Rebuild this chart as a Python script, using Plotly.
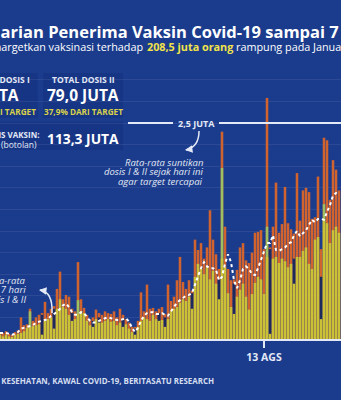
import plotly.graph_objects as go
import pandas as pd

# ---------------- data (values in juta / million doses) ----------------
dates = pd.date_range("2021-05-17", "2021-09-07", freq="D")

total = [0.08, 0.07, 0.09, 0.06, 0.05, 0.08, 0.10, 0.25, 0.16, 0.17,
         0.35, 0.21, 0.25, 0.28, 0.30, 0.43, 0.30, 0.35, 0.38, 0.58,
         0.78, 0.46, 0.51, 0.49, 0.35, 0.32, 0.89, 0.46, 0.36, 0.28,
         0.23, 0.25, 0.34, 0.30, 0.28, 0.32, 0.30, 0.29, 0.32, 0.25,
         0.35, 0.28, 0.23, 0.19, 0.14, 0.14, 0.21, 0.54, 0.32, 0.63,
         0.35, 0.36, 0.32, 0.35, 0.37, 0.29, 0.63, 0.44, 0.49, 0.68,
         0.95, 0.66, 0.58, 0.68, 0.56, 1.15, 1.03, 1.11, 0.93, 1.06,
         1.49, 1.15, 0.98, 0.81, 2.40, 1.30, 0.81, 0.68, 0.69, 0.80,
         1.06, 1.11, 0.91, 0.88, 1.00, 1.23, 1.24, 1.26, 1.04, 2.79,
         1.06, 1.30, 1.81, 1.23, 1.33, 1.76, 1.34, 1.27, 1.22, 1.92,
         1.37, 1.72, 1.75, 1.70, 1.39, 1.41, 1.88, 1.04, 2.33, 2.30,
         1.61, 2.07, 1.96, 1.72]

dosis1 = [0.05, 0.03, 0.05, 0.03, 0.02, 0.05, 0.06, 0.07, 0.09, 0.13,
          0.14, 0.15, 0.16, 0.17, 0.05, 0.21, 0.23, 0.25, 0.12, 0.35,
          0.46, 0.37, 0.35, 0.28, 0.21, 0.23, 0.29, 0.32, 0.30, 0.21,
          0.16, 0.14, 0.23, 0.19, 0.19, 0.21, 0.23, 0.20, 0.21, 0.16,
          0.19, 0.14, 0.17, 0.12, 0.08, 0.05, 0.14, 0.21, 0.25, 0.23,
          0.21, 0.28, 0.23, 0.21, 0.22, 0.14, 0.23, 0.32, 0.35, 0.37,
          0.42, 0.46, 0.44, 0.49, 0.35, 0.72, 0.87, 0.81, 0.75, 0.83,
          0.69, 0.79, 0.64, 0.46, 0.93, 0.83, 0.53, 0.37, 0.29, 0.49,
          0.57, 0.64, 0.49, 0.34, 0.52, 0.65, 0.72, 0.69, 0.52, 0.95,
          0.06, 0.93, 0.95, 0.88, 0.93, 0.90, 0.83, 0.87, 0.64, 0.95,
          0.95, 1.02, 1.06, 0.87, 0.81, 1.15, 1.18, 0.23, 1.39, 1.34,
          1.11, 1.26, 1.30, 1.23]

dosis2 = [0, 0, 0, 0, 0, 0, 0, 0, 0, 0,
          0, 0, 0, 0, 0.28, 0, 0, 0, 0.35, 0,
          0, 0, 0, 0, 0.30, 0, 0, 0, 0, 0,
          0, 0.21, 0, 0.25, 0, 0, 0, 0, 0, 0,
          0, 0.23, 0, 0, 0, 0.12, 0, 0, 0, 0,
          0, 0, 0, 0.30, 0, 0.25, 0, 0, 0, 0,
          0, 0, 0, 0, 0.53, 0, 0, 0, 0, 0,
          0, 0, 0, 0.69, 0, 0, 0, 0, 0.64, 0,
          0, 0, 0, 0, 0, 0, 0, 0, 0, 0,
          1.04, 0, 0, 0, 0, 0, 0, 0, 0.93, 0,
          0, 0, 0, 0, 0, 0, 0, 0.72, 0, 0,
          0, 0, 0, 0]

dosis3 = [0] * 114
for idx, val in [(10, 0.32), (26, 0.45), (74, 1.98), (89, 1.30), (108, 1.56)]:
    dosis3[idx] = val

rata7 = [0.07, 0.07, 0.07, 0.06, 0.05, 0.06, 0.08, 0.12, 0.13, 0.14,
         0.15, 0.16, 0.19, 0.20, 0.21, 0.22, 0.23, 0.27, 0.29, 0.31,
         0.35, 0.39, 0.41, 0.37, 0.31, 0.28, 0.28, 0.31, 0.30, 0.25,
         0.21, 0.19, 0.19, 0.21, 0.23, 0.24, 0.25, 0.24, 0.23, 0.22,
         0.22, 0.23, 0.24, 0.20, 0.13, 0.08, 0.13, 0.21, 0.27, 0.30,
         0.31, 0.31, 0.29, 0.29, 0.30, 0.28, 0.27, 0.32, 0.37, 0.42,
         0.45, 0.47, 0.50, 0.51, 0.53, 0.63, 0.73, 0.82, 0.89, 0.84,
         0.82, 0.82, 0.80, 0.68, 0.72, 0.87, 0.98, 0.89, 0.68, 0.59,
         0.68, 0.81, 0.84, 0.81, 0.75, 0.74, 0.82, 0.91, 1.00, 1.11,
         1.11, 1.20, 1.03, 1.02, 1.04, 1.06, 1.10, 1.12, 1.20, 1.25,
         1.19, 1.22, 1.26, 1.32, 1.38, 1.35, 1.39, 1.39, 1.38, 1.47,
         1.55, 1.66, 1.69, 1.66]

tick_vals = ["2021-08-13"]
tick_text = ["13 AGS"]
target_harian = 2.5

# ---------------- styling ----------------
W, H = 341, 400
BG = "#1b3c8c"
BOX = "#173585"
YELLOW = "#cbc136"
ORANGE = "#d0632e"
NAVY = "#1d2a5e"
GREEN = "#9fc060"
LIGHT = "#e3e9f6"
FONT = "Open Sans"


def px(x):
    return x / W


def py(y):
    return 1 - y / H


fig = go.Figure()
for vals, col in [(total, ORANGE), (dosis3, GREEN), (dosis2, NAVY), (dosis1, YELLOW)]:
    fig.add_bar(x=dates, y=vals, marker=dict(color=col, line=dict(width=0)),
                hoverinfo="skip")
fig.add_scatter(x=dates, y=rata7, mode="lines",
                line=dict(color="white", width=2, dash="dot"), hoverinfo="skip")

ymax = 279 / 86.4
fig.update_layout(
    width=W, height=H, margin=dict(l=0, r=0, t=0, b=0),
    paper_bgcolor=BG, plot_bgcolor=BG, showlegend=False,
    barmode="overlay", bargap=0.15,
    font=dict(family=FONT, color="white"),
    xaxis=dict(domain=[0, 1],
               range=[pd.Timestamp("2021-05-17"), pd.Timestamp("2021-05-17") + pd.Timedelta(days=W / 3)],
               tickvals=tick_vals, ticktext=tick_text, ticks="outside", ticklen=7,
               tickwidth=2, tickcolor=LIGHT, showgrid=False, showline=True,
               linecolor=LIGHT, linewidth=2, zeroline=False,
               tickfont=dict(family=FONT, size=10.5, color=LIGHT, weight="bold")),
    yaxis=dict(domain=[py(339), py(60)], range=[0, ymax], showticklabels=False,
               showgrid=True, gridcolor="rgba(255,255,255,0.07)", gridwidth=1,
               dtick=0.25, zeroline=False, ticks=""),
)

shapes = []
# stat boxes
shapes.append(dict(type="rect", xref="paper", yref="paper", x0=px(-45), x1=px(38),
                   y0=py(118), y1=py(73), fillcolor=BOX, line=dict(width=0), layer="below"))
shapes.append(dict(type="rect", xref="paper", yref="paper", x0=px(43), x1=px(123),
                   y0=py(118), y1=py(73), fillcolor=BOX, line=dict(width=0), layer="below"))
shapes.append(dict(type="rect", xref="paper", yref="paper", x0=px(-45), x1=px(123),
                   y0=py(150), y1=py(122), fillcolor=BOX, line=dict(width=0), layer="below"))
# 2.5 juta line with gap for label
for a, b in [(128, 173), (219, 345)]:
    shapes.append(dict(type="line", xref="paper", yref="y", x0=px(a), x1=px(b),
                       y0=target_harian, y1=target_harian, line=dict(color=LIGHT, width=2)))
# curved arrows
shapes.append(dict(type="path", xref="paper", yref="paper",
                   path=f"M {px(199)},{py(131)} Q {px(199)},{py(147)} {px(186)},{py(150)}",
                   line=dict(color=LIGHT, width=1.5)))
shapes.append(dict(type="path", xref="paper", yref="paper",
                   path=f"M {px(52)},{py(313)} Q {px(53)},{py(292)} {px(40)},{py(290)}",
                   line=dict(color=LIGHT, width=1.5)))
fig.update_layout(shapes=shapes)


def ann(text, x, y, size, xanchor="center", color="white", align="center", yanchor="middle"):
    fig.add_annotation(text=text, x=px(x), y=py(y), xref="paper", yref="paper",
                       xanchor=xanchor, yanchor=yanchor, align=align, showarrow=False,
                       borderpad=0, font=dict(family=FONT, size=size, color=color))


# title & subtitle (the picture is a crop: text runs past both edges)
ann("<b>Harian Penerima Vaksin Covid-19 sampai 7 September 2021</b>", -13, 32, 16.5,
    xanchor="left")
ann("Pemerintah menargetkan vaksinasi terhadap", 144, 46, 10.8, xanchor="right")
ann("<b><span style='color:#f2e34a'>208,5 juta orang</span></b> rampung pada Januari 2022",
    146, 46, 10.8, xanchor="left")

# box 1 (partly off-canvas)
ann("<b>TOTAL DOSIS I</b>", 0, 80, 8.5, color=LIGHT)
ann("<b>70,3 JUTA</b>", -17, 95, 15.5)
ann("<b>33,7% DARI TARGET</b>", -4, 111, 8.2, color="#d8d24a")
# box 2
ann("<b>TOTAL DOSIS II</b>", 83, 80, 8.5, color=LIGHT)
ann("<b>79,0 JUTA</b>", 83, 95, 15.5)
ann("<b>37,9% DARI TARGET</b>", 83, 111, 8.2, color="#d8d24a")
# box 3
ann("<b>TOTAL DOSIS VAKSIN:</b>", 40, 134.5, 8, xanchor="right", color=LIGHT)
ann("(botolan)", 38, 144, 8.5, xanchor="right", color=LIGHT)
ann("<b>113,3 JUTA</b>", 83, 139, 13.8)

# target label
ann("<b>2,5 JUTA</b>", 196, 123, 9, color=LIGHT)
for txt, yy in [("Rata-rata suntikan", 162), ("dosis I & II sejak hari ini", 171.5),
                ("agar target tercapai", 181)]:
    ann(f"<i>{txt}</i>", 204, yy, 9.5, xanchor="right", color=LIGHT)
for txt, yy in [("Rata-rata", 280), ("bergerak 7 hari", 289.5), ("dosis I & II", 299)]:
    ann(f"<i>{txt}</i>", 27, yy, 9.5, xanchor="right", color=LIGHT)

# source
ann("<b>SUMBER: KEMENTERIAN KESEHATAN, KAWAL COVID-19, BERITASATU RESEARCH</b>",
    215, 381, 7.95, xanchor="right", color="#d5def0")

# arrowheads
for hx, hy, ax, ay in [(185, 150, 7, -1), (39, 290, 7, 1)]:
    fig.add_annotation(x=px(hx), y=py(hy), xref="paper", yref="paper", text="",
                       showarrow=True, ax=ax, ay=ay, arrowhead=2, arrowsize=1,
                       arrowwidth=1.5, arrowcolor=LIGHT, standoff=0)

fig.write_html("out.html", config={"displayModeBar": False})
